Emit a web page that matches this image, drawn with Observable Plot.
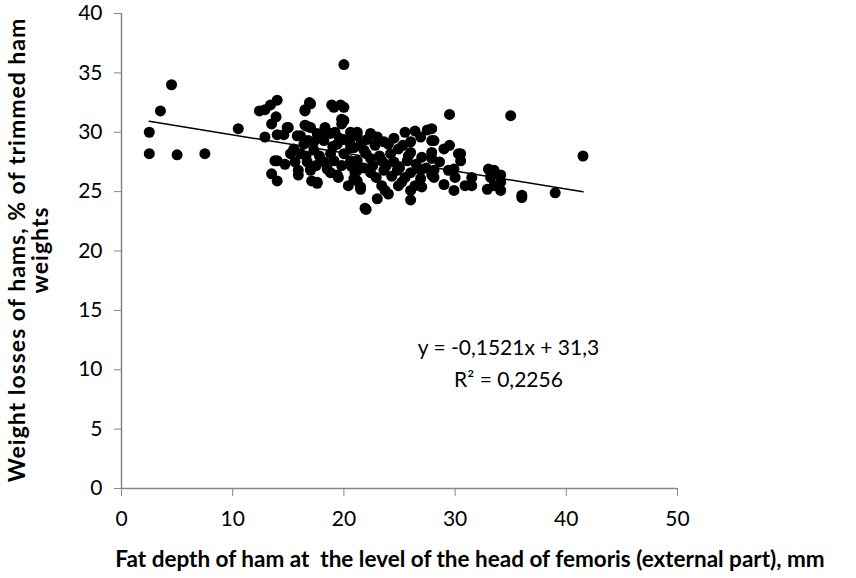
<!DOCTYPE html>
<html>
<head>
<meta charset="utf-8">
<script src="https://cdn.jsdelivr.net/npm/d3@7"></script>
<script src="https://cdn.jsdelivr.net/npm/@observablehq/plot@0.6"></script>
<style>
  html, body { margin: 0; padding: 0; background: #fff; }
  #chart { width: 856px; height: 578px; }
</style>
</head>
<body>
<div id="chart"></div>
<script>
// Fat depth (mm) and weight losses (%)
const fatDepth = [
  2.5,2.5,3.5,4.5,5.0,7.5,10.5,20.0,29.5,35.0,41.5,36.0,36.0,39.0,
  12.4,12.9,13.4,14.0,13.9,13.5,12.9,14.0,15.0,14.6,14.0,13.5,14.0,14.7,15.5,15.2,15.6,15.8,16.1,15.9,15.9,14.9,15.5,16.4,16.1,16.7,13.8,
  16.5,16.9,16.7,16.5,17.0,18.9,19.7,19.1,20.0,19.8,19.8,20.0,16.5,17.0,18.3,17.6,18.8,17.3,18.2,19.4,17.3,18.8,20.0,18.2,19.1,17.0,17.0,18.5,19.4,19.5,17.1,17.6,17.6,16.6,17.8,19.0,18.0,19.6,16.8,17.5,18.8,19.8,20.0,19.2,
  20.6,21.2,20.6,20.6,21.0,20.4,21.2,21.2,22.4,23.6,24.0,24.9,20.9,21.8,21.2,22.4,23.4,24.5,21.2,22.4,23.6,24.8,20.9,21.5,23.4,23.7,24.9,23.0,21.9,22.0,24.0,21.5,20.5,21.5,22.0,22.8,23.2,24.2,22.6,23.8,21.8,22.9,24.3,20.7,22.1,23.0,24.5,
  25.5,26.4,27.5,26.9,26.0,27.9,27.9,26.0,27.0,25.7,26.0,26.9,27.9,26.0,26.9,27.0,26.0,27.9,27.9,25.3,25.0,25.5,26.5,25.2,26.4,27.4,25.8,
  28.1,29.0,29.5,30.5,30.5,28.1,28.1,29.4,30.0,29.0,29.9,30.9,31.5,31.5,33.0,33.5,34.1,33.2,32.9,33.5,34.1,29.9,30.3,28.6,34.1,33.2
];
const weightLoss = [
  30.0,28.2,31.8,34.0,28.1,28.2,30.3,35.7,31.5,31.4,28.0,24.7,24.5,24.9,
  31.8,31.9,32.3,32.7,31.3,30.7,29.6,29.8,30.4,29.8,27.6,26.5,25.9,27.3,28.5,28.2,27.5,29.7,29.7,26.8,26.4,30.4,28.6,29.0,28.2,27.5,27.6,
  31.9,32.5,30.5,31.8,32.4,32.3,32.3,32.1,32.1,31.1,30.7,31.0,30.6,30.4,30.4,29.9,29.9,29.2,29.3,29.0,28.5,28.2,28.2,27.5,27.6,26.8,26.9,26.9,26.4,26.2,25.9,25.8,25.7,28.0,28.0,28.8,29.6,29.5,29.3,27.2,26.6,27.2,29.4,30.0,
  30.0,29.7,28.7,27.6,26.6,25.5,25.9,30.0,29.9,29.2,29.0,28.6,28.7,28.5,27.6,27.8,27.6,27.5,26.8,26.6,26.8,26.8,26.1,25.4,25.5,25.1,25.5,24.4,23.6,23.5,24.8,25.2,29.2,29.0,28.2,28.9,28.0,28.2,27.2,27.2,27.0,26.2,26.3,27.1,29.4,29.6,29.5,
  30.0,30.1,30.2,29.6,29.2,29.3,28.3,28.3,27.9,27.6,26.6,26.8,26.4,25.1,26.1,25.4,24.3,30.3,27.8,28.9,27.0,26.2,27.3,25.8,25.5,27.0,28.0,
  29.3,28.6,28.9,28.2,27.6,26.8,26.2,26.8,26.2,25.6,25.1,25.5,25.5,26.2,26.9,26.8,26.4,26.2,25.2,25.5,25.1,26.9,28.2,27.5,25.8,26.6
];
const xTicks = [0, 10, 20, 30, 40, 50];
const yTicks = [0, 5, 10, 15, 20, 25, 30, 35, 40];
const trendSlope = -0.1521;
const trendIntercept = 31.3;
const equationLines = ["y = -0,1521x + 31,3", "R² = 0,2256"];
const xTitle = "Fat depth of ham at  the level of the head of femoris (external part), mm";
const yTitleLines = ["Weight losses of hams, % of trimmed ham", "weights"];

const points = fatDepth.map((x, i) => ({x, y: weightLoss[i]}));
const [x0, x1] = d3.extent(fatDepth);
const trend = [x0, x1].map(x => ({x, y: trendIntercept + trendSlope * x}));

const FONT = "Lato, 'Open Sans', sans-serif";
const AXIS = "#868686";

const chart = Plot.plot({
  width: 856,
  height: 578,
  marginLeft: 121,
  marginRight: 179,
  marginTop: 13,
  marginBottom: 90,
  style: {fontFamily: FONT, fontSize: "21px", color: "#000", background: "#fff"},
  x: {domain: [0, 50], ticks: xTicks},
  y: {domain: [0, 40], ticks: yTicks},
  marks: [
    Plot.axisX({ticks: xTicks, tickSize: 8, tickPadding: 15, label: null, stroke: AXIS, fill: "#000", fontSize: 21, tickFormat: d => String(d)}),
    Plot.axisY({ticks: yTicks, tickSize: 7, tickPadding: 12, label: null, stroke: AXIS, fill: "#000", fontSize: 21, tickFormat: d => String(d)}),
    Plot.ruleX([0], {stroke: AXIS, strokeWidth: 1.5}),
    Plot.ruleY([0], {stroke: AXIS, strokeWidth: 1.5}),
    Plot.dot(points, {x: "x", y: "y", r: 5.5, fill: "#000", stroke: "none"}),
    Plot.line(trend, {x: "x", y: "y", stroke: "#000", strokeWidth: 1.5}),
    Plot.text([equationLines[0]], {x: 34.8, y: 11.8, text: d => d, fontSize: 21, fill: "#000", textAnchor: "middle"}),
    Plot.text([equationLines[1]], {x: 34.8, y: 9.1, text: d => d, fontSize: 21, fill: "#000", textAnchor: "middle"})
  ]
});

const svg = d3.select(chart);
svg.append("text")
  .attr("x", 470).attr("y", 561)
  .attr("text-anchor", "middle").attr("dominant-baseline", "middle")
  .attr("font-family", FONT).attr("font-weight", "bold").attr("font-size", 22.5)
  .attr("fill", "#000")
  .text(xTitle);
const yt = svg.append("text")
  .attr("transform", "translate(28,250) rotate(-90)")
  .attr("text-anchor", "middle")
  .attr("font-family", FONT).attr("font-weight", "bold").attr("font-size", 23)
  .attr("letter-spacing", "1px")
  .attr("fill", "#000");
yt.append("tspan").attr("x", 0).attr("y", -3).text(yTitleLines[0]);
yt.append("tspan").attr("x", 0).attr("y", 20).text(yTitleLines[1]);

document.getElementById("chart").appendChild(chart);
</script>
</body>
</html>
